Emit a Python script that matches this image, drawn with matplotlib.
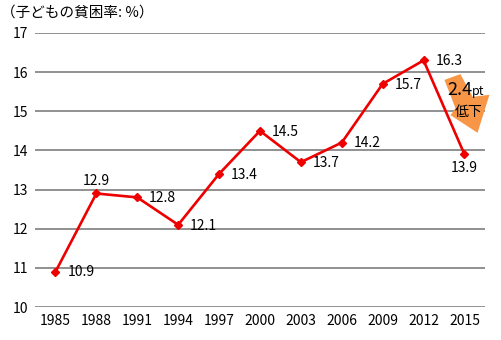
import matplotlib
matplotlib.use("Agg")
import matplotlib.pyplot as plt
from matplotlib.patches import Polygon

plt.rcParams['font.family'] = ['Noto Sans CJK JP', 'DejaVu Sans']

years = ['1985', '1988', '1991', '1994', '1997', '2000',
         '2003', '2006', '2009', '2012', '2015']
rate = [10.9, 12.9, 12.8, 12.1, 13.4, 14.5, 13.7, 14.2, 15.7, 16.3, 13.9]
yticks = [10, 11, 12, 13, 14, 15, 16, 17]

fig = plt.figure(figsize=(5.01, 3.40), dpi=100)
ax = fig.add_axes([0.0699, 0.097, 0.898, 0.806])

x = list(range(len(years)))
ax.set_xlim(-0.5, len(years) - 0.5)
ax.set_ylim(10, 17)

for v in yticks:
    ax.axhline(v, color='#888888', lw=1.3, zorder=1)

ax.plot(x, rate, color='#ee0000', lw=1.9, marker='D', ms=4.5, zorder=3)

# value labels: most sit to the right of the point
for i, v in enumerate(rate):
    if i == 1:
        ax.annotate(f'{v}', (i, v), xytext=(0, 4), textcoords='offset points',
                    ha='center', va='bottom', fontsize=10)
    elif i == len(rate) - 1:
        ax.annotate(f'{v}', (i, v), xytext=(0, -5), textcoords='offset points',
                    ha='center', va='top', fontsize=10)
    else:
        ax.annotate(f'{v}', (i, v), xytext=(8.5, -0.5), textcoords='offset points',
                    ha='left', va='center', fontsize=10)

ax.set_xticks(x)
ax.set_xticklabels(years, fontsize=10)
ax.set_yticks(yticks)
ax.set_yticklabels([str(v) for v in yticks], fontsize=10)
ax.tick_params(length=0, pad=5)
for s in ax.spines.values():
    s.set_visible(False)

# orange arrow showing the drop between 2012 and 2015
arrow_pts = [(9.51, 15.80), (9.90, 15.95), (10.20, 15.37), (10.61, 15.42),
             (10.32, 14.45), (9.66, 14.90), (9.78, 15.08)]
ax.add_patch(Polygon(arrow_pts, closed=True, color='#f79646', lw=0,
                     zorder=2, clip_on=False))
ax.text(9.88, 15.55, '2.4', fontsize=13, ha='center', va='center', zorder=4)
ax.text(10.17, 15.5, 'pt', fontsize=9, ha='left', va='center', zorder=4)
ax.text(10.09, 14.98, '低下', fontsize=10, ha='center', va='center', zorder=4)

fig.text(0.002, 0.962, '（子どもの貧困率: %）', fontsize=10.5, ha='left', va='center')

fig.savefig('out.png', dpi=100)
